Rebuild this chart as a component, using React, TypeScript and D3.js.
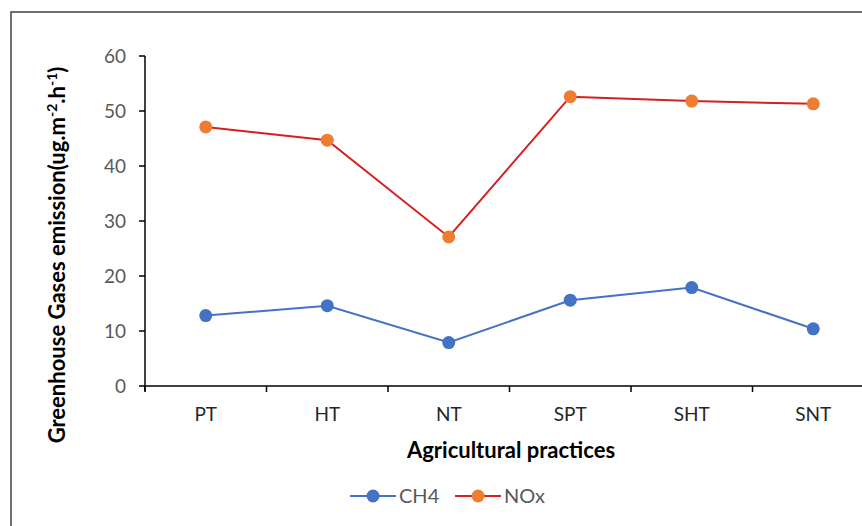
import React from "react";
import * as d3 from "d3";

const categories = ["PT", "HT", "NT", "SPT", "SHT", "SNT"];
const ch4Values = [12.8, 14.6, 7.9, 15.6, 17.9, 10.4];
const noxValues = [47.1, 44.7, 27.1, 52.6, 51.8, 51.3];
const yTicks = [0, 10, 20, 30, 40, 50, 60];

const W = 862;
const H = 526;
const FONT = "Lato, 'Open Sans', sans-serif";

export default function App() {
  const left = 145;
  const band = 121.5;
  const x = d3
    .scaleBand<string>()
    .domain(categories)
    .range([left, left + band * categories.length])
    .padding(0);
  const y = d3.scaleLinear().domain([0, 60]).range([386, 56]);
  const cx = (c: string) => (x(c) as number) + x.bandwidth() / 2;

  const line = d3
    .line<number>()
    .x((_, i) => cx(categories[i]))
    .y((d) => y(d));

  const series = [
    { name: "CH4", values: ch4Values, line: "#4472C4", marker: "#4472C4" },
    { name: "NOx", values: noxValues, line: "#D42020", marker: "#ED7D31" },
  ];

  const xEnd = left + band * categories.length;
  const bounds = [left, ...categories.map((c) => (x(c) as number) + band)];

  return (
    <svg
      width={W}
      height={H}
      style={{ position: "absolute", left: 0, top: 0, background: "#fff" }}
    >
      <rect x={11} y={12} width={W + 20} height={H + 20} fill="#fff" stroke="#404040" strokeWidth={1.5} />
      {/* y axis */}
      <line x1={left} x2={left} y1={y(60)} y2={y(0) + 5} stroke="#000" strokeWidth={1.5} />
      {yTicks.map((t) => (
        <g key={t}>
          <line x1={left - 6} x2={left} y1={y(t)} y2={y(t)} stroke="#000" strokeWidth={1.5} />
          <text
            x={left - 19}
            y={y(t)}
            dy="0.36em"
            textAnchor="end"
            fontFamily={FONT}
            fontSize={19}
            fill="#595959"
          >
            {t}
          </text>
        </g>
      ))}
      {/* x axis */}
      <line x1={left} x2={xEnd} y1={y(0)} y2={y(0)} stroke="#000" strokeWidth={1.5} />
      {bounds.map((b, i) => (
        <line key={i} x1={b} x2={b} y1={y(0)} y2={y(0) + 6} stroke="#000" strokeWidth={1.5} />
      ))}
      {categories.map((c) => (
        <text
          key={c}
          x={cx(c)}
          y={421}
          textAnchor="middle"
          fontFamily={FONT}
          fontSize={19}
          fill="#262626"
        >
          {c}
        </text>
      ))}
      <text
        x={511}
        y={458}
        textAnchor="middle"
        fontFamily={FONT}
        fontSize={22}
        fontWeight="bold"
        fill="#000"
      >
        Agricultural practices
      </text>
      <text
        transform={`translate(65, 255) rotate(-90)`}
        textAnchor="middle"
        fontFamily={FONT}
        fontSize={22}
        fontWeight="bold"
        fill="#000"
      >
        Greenhouse Gases emission(ug.m
        <tspan dy={-8} fontSize={14}>-2</tspan>
        <tspan dy={8}>.h</tspan>
        <tspan dy={-8} fontSize={14}>-1</tspan>
        <tspan dy={8}>)</tspan>
      </text>
      {series.map((s) => (
        <g key={s.name}>
          <path d={line(s.values) || ""} fill="none" stroke={s.line} strokeWidth={2} />
          {s.values.map((v, i) => (
            <circle key={i} cx={cx(categories[i])} cy={y(v)} r={6.5} fill={s.marker} />
          ))}
        </g>
      ))}
      {/* legend */}
      {series.map((s, i) => {
        const lx = 350 + i * 105;
        return (
          <g key={s.name}>
            <line x1={lx} x2={lx + 46} y1={496} y2={496} stroke={s.line} strokeWidth={2} />
            <circle cx={lx + 23} cy={496} r={6.5} fill={s.marker} />
            <text x={lx + 49} y={496} dy="0.36em" fontFamily={FONT} fontSize={20} fill="#595959">
              {s.name}
            </text>
          </g>
        );
      })}
    </svg>
  );
}
